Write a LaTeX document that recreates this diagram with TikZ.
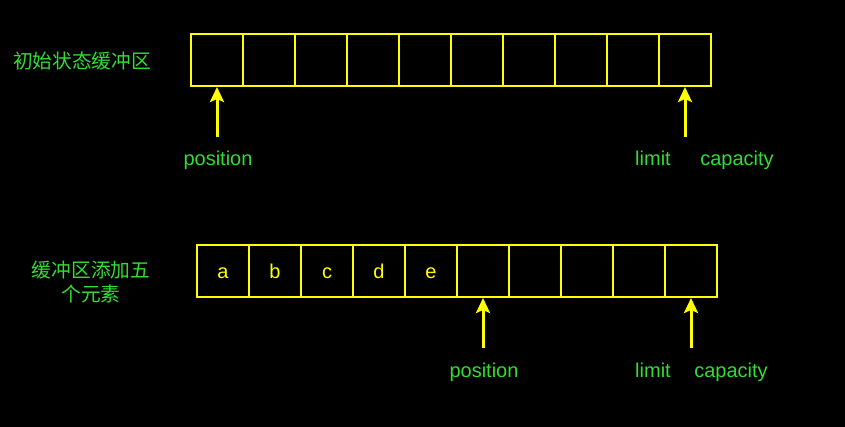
\documentclass[tikz,border=0pt]{standalone}
\usepackage{fontspec}
\setmainfont{Liberation Sans}
\newfontfamily\cjk{Noto Sans CJK SC}
\usetikzlibrary{arrows.meta, positioning}
\definecolor{bufYellow}{RGB}{255, 255, 0}
\definecolor{labelGreen}{RGB}{50, 220, 50}
\tikzset{
    cell/.style={draw=bufYellow, line width=2pt, minimum width=52pt, minimum height=52pt,
        inner sep=0pt, text height=16pt, text depth=0pt, text=bufYellow,
        font=\fontsize{20}{23}\selectfont},
    pointer/.style={draw=bufYellow, line width=3pt, -{Stealth[length=15pt, width=14pt, inset=3pt]}},
    tag/.style={text=labelGreen, font=\fontsize{20}{23}\selectfont, inner sep=0pt, anchor=base},
    title/.style={text=labelGreen, font=\cjk\fontsize{19.7}{24}\selectfont, align=center, inner sep=0pt}
}

\begin{document}
\begin{tikzpicture}[x=1pt, y=-1pt]
                    % Background and bounding box
                    \fill[black] (0,0) rectangle (845,427);
                    \useasboundingbox (0,0) rectangle (845,427);

                    % Initial buffer
                    \node[title] (initTitle) at (82,61) {初始状态缓冲区};
                    \foreach \i in {0,...,9}
                        \node[cell] (top\i) at (217+52*\i,60) {};

                    \node[tag] (topPos) at (218,166) {position};
                    \node[tag] (topLimit) at (653,166) {limit};
                    \node[tag] (topCap) at (737,166) {capacity};
                    \coordinate (topPosTail) at (217,137);
                    \coordinate (topLimitTail) at (685,137);
                    \draw[pointer] (topPosTail) -- (top0.south);
                    \draw[pointer] (topLimitTail) -- (top9.south);

                    % Buffer after adding five elements
                    \node[title] (addTitle) at (91,282) {缓冲区添加五\\个元素};
                    \foreach \i/\c in {0/a,1/b,2/c,3/d,4/e,5/,6/,7/,8/,9/}
                        \node[cell] (bot\i) at (223+52*\i,271) {\c};

                    \node[tag] (botPos) at (484,377) {position};
                    \node[tag] (botLimit) at (653,377) {limit};
                    \node[tag] (botCap) at (731,377) {capacity};
                    \coordinate (botPosTail) at (483,348);
                    \coordinate (botLimitTail) at (691,348);
                    \draw[pointer] (botPosTail) -- (bot5.south);
                    \draw[pointer] (botLimitTail) -- (bot9.south);
                \end{tikzpicture}
\end{document}
